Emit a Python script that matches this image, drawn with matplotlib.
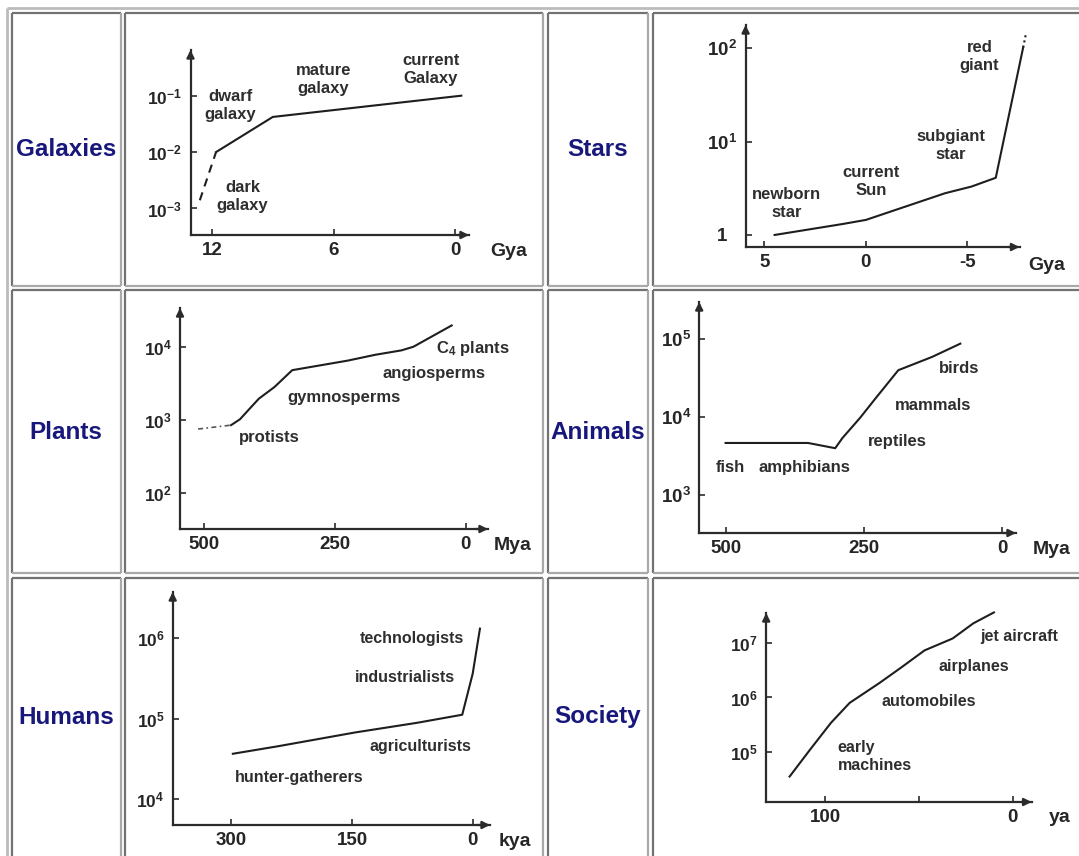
import matplotlib
matplotlib.use("Agg")
import matplotlib.pyplot as plt
import matplotlib.transforms as mtransforms
from matplotlib.ticker import NullLocator, FixedLocator, FixedFormatter

plt.rcParams['font.family'] = ['Liberation Sans', 'DejaVu Sans']
plt.rcParams['mathtext.fontset'] = 'custom'
plt.rcParams['mathtext.rm'] = 'Liberation Sans'
plt.rcParams['mathtext.bf'] = 'Liberation Sans:bold'
plt.rcParams['mathtext.it'] = 'Liberation Sans:italic'

W, H = 1079, 856

# ---------------- data ----------------
row_labels = ['Galaxies', 'Stars', 'Plants', 'Animals', 'Humans', 'Society']

galaxy_gya = [12.6, 11.8, 9.0, -0.3]
galaxy_size = [1.4e-3, 1e-2, 4.2e-2, 1e-1]
galaxy_xticks = [12, 6, 0]
galaxy_yticks = [1e-3, 1e-2, 1e-1]
galaxy_ylabels = [r'$\mathbf{10^{-3}}$', r'$\mathbf{10^{-2}}$', r'$\mathbf{10^{-1}}$']
galaxy_notes = ['dwarf\ngalaxy', 'mature\ngalaxy', 'current\nGalaxy', 'dark\ngalaxy']
galaxy_note_x = [11.1, 6.5, 1.2, 10.5]
galaxy_note_y = [0.066, 0.19, 0.29, 1.6e-3]

star_gya = [4.5, 1.15, 0.0, -3.9, -5.2, -6.4, -7.75, -7.9]
star_size = [1.0, 1.31, 1.45, 2.8, 3.3, 4.1, 102, 148]
star_xticks = [5, 0, -5]
star_yticks = [1, 10, 100]
star_ylabels = ['1', r'$\mathbf{10^{1}}$', r'$\mathbf{10^{2}}$']
star_notes = ['newborn\nstar', 'current\nSun', 'subgiant\nstar', 'red\ngiant']
star_note_x = [3.9, -0.24, -4.2, -5.6]
star_note_y = [2.19, 3.72, 9.2, 81]

plant_mya = [512, 449, 432, 396, 366, 332, 226, 173, 123, 100, 27]
plant_size = [753, 851, 1023, 1950, 2818, 4786, 6457, 7762, 8913, 10000, 19498]
plant_xticks = [500, 250, 0]
plant_yticks = [1e2, 1e3, 1e4]
plant_ylabels = [r'$\mathbf{10^{2}}$', r'$\mathbf{10^{3}}$', r'$\mathbf{10^{4}}$']
plant_notes = [r'C$_{\mathbf{4}}$ plants', 'angiosperms', 'gymnosperms', 'protists']
plant_note_x = [-13, 60, 233, 376]
plant_note_y = [9550, 4365, 2042, 569]

animal_mya = [500, 351, 302, 289, 257, 229, 188, 127, 76]
animal_size = [4645, 4645, 3981, 5370, 9772, 17378, 39811, 58884, 87096]
animal_xticks = [500, 250, 0]
animal_yticks = [1e3, 1e4, 1e5]
animal_ylabels = [r'$\mathbf{10^{3}}$', r'$\mathbf{10^{4}}$', r'$\mathbf{10^{5}}$']
animal_notes = ['birds', 'mammals', 'reptiles', 'fish', 'amphibians']
animal_note_x = [77.7, 125.5, 189.5, 490.5, 358.4]
animal_note_y = [41687, 14125, 4786, 2239, 2239]

human_kya = [298, 241, 146, 69, 13, 0, -9]
human_size = [36728, 45709, 67608, 89125, 112202, 363078, 1318257]
human_xticks = [300, 150, 0]
human_yticks = [1e4, 1e5, 1e6]
human_ylabels = [r'$\mathbf{10^{4}}$', r'$\mathbf{10^{5}}$', r'$\mathbf{10^{6}}$']
human_notes = ['technologists', 'industrialists', 'agriculturists', 'hunter-gatherers']
human_note_x = [75.5, 84.2, 64.7, 215.9]
human_note_y = [1.0e6, 323594, 45290, 18836]

society_ya = [119, 108, 97, 87, 71, 60, 47, 32, 21, 10]
society_size = [3.47e4, 1.10e5, 3.39e5, 7.94e5, 1.86e6, 3.47e6, 7.41e6, 1.23e7, 2.34e7, 3.72e7]
society_xticks = [100, 50, 0]
society_xlabels = ['100', '', '0']
society_yticks = [1e5, 1e6, 1e7]
society_ylabels = [r'$\mathbf{10^{5}}$', r'$\mathbf{10^{6}}$', r'$\mathbf{10^{7}}$']
society_notes = ['jet aircraft', 'airplanes', 'automobiles', 'early\nmachines']
society_note_x = [-3.6, 20.8, 44.9, 93.5]
society_note_y = [1.32e7, 3.8e6, 8.5e5, 8.1e4]

units = ['Gya', 'Gya', 'Mya', 'Mya', 'kya', 'ya']

# ---------------- styling ----------------
AX = '#2b2b2b'
TXT = '#262626'
LBL = '#18187c'

fig = plt.figure(figsize=(W / 100, H / 100), dpi=100)
fig.patch.set_facecolor('white')

bg = fig.add_axes([0, 0, 1, 1])
bg.set_xlim(0, W)
bg.set_ylim(H, 0)
bg.axis('off')


def box(x0, y0, x1, y1, tl, br, lw=1.6):
    bg.plot([x0, x1], [y0, y0], color=tl, lw=lw, solid_capstyle='butt')
    bg.plot([x0, x0], [y0, y1], color=tl, lw=lw, solid_capstyle='butt')
    bg.plot([x0, x1], [y1, y1], color=br, lw=lw, solid_capstyle='butt')
    bg.plot([x1, x1], [y0, y1], color=br, lw=lw, solid_capstyle='butt')


# outer table border
box(7, 8, 1100, 900, '#bcbcbc', '#8a8a8a', lw=2.0)
cols = [(12, 121), (125, 543), (548, 648), (653, 1095)]
rows = [(13, 286), (290, 573), (578, 890)]
for (ry0, ry1) in rows:
    for (cx0, cx1) in cols:
        box(cx0, ry0, cx1, ry1, '#727272', '#a9a9a9', lw=1.6)

# row labels
label_pos = [(66, 149), (598, 149), (66, 432), (598, 432), (66, 717), (598, 717)]
for name, (lx, ly) in zip(row_labels, label_pos):
    bg.text(lx, ly, name, ha='center', va='center', fontsize=17.5,
            fontweight='bold', color=LBL)


def make_axes(pbox, xlim, ylim):
    x0, x1, ytop, ybot = pbox
    ax = fig.add_axes([x0 / W, 1 - ybot / H, (x1 - x0) / W, (ybot - ytop) / H])
    ax.set_yscale('log')
    ax.set_xlim(*xlim)
    ax.set_ylim(*ylim)
    ax.patch.set_alpha(0)
    for s in ['top', 'right']:
        ax.spines[s].set_visible(False)
    for s in ['left', 'bottom']:
        ax.spines[s].set_color(AX)
        ax.spines[s].set_linewidth(1.6)
    ax.annotate('', xy=(1.0, 0), xytext=(0.96, 0), xycoords='axes fraction',
                arrowprops=dict(arrowstyle='-|>', color=AX, lw=1.6,
                                mutation_scale=11, shrinkA=0, shrinkB=0))
    ax.annotate('', xy=(0, 1.0), xytext=(0, 0.96), xycoords='axes fraction',
                arrowprops=dict(arrowstyle='-|>', color=AX, lw=1.6,
                                mutation_scale=11, shrinkA=0, shrinkB=0))
    ax.yaxis.set_minor_locator(NullLocator())
    ax.xaxis.set_minor_locator(NullLocator())
    ax.tick_params(direction='in', length=4, width=1.2, color=AX,
                   labelcolor=TXT)
    ax.tick_params(axis='x', labelsize=13.5, pad=5)
    ax.tick_params(axis='y', labelsize=12.5, pad=6)
    return ax


def set_ticks(ax, xt, xl, yt, yl):
    ax.xaxis.set_major_locator(FixedLocator(xt))
    ax.xaxis.set_major_formatter(FixedFormatter(xl))
    ax.yaxis.set_major_locator(FixedLocator(yt))
    ax.yaxis.set_major_formatter(FixedFormatter(yl))
    for t in ax.get_xticklabels() + ax.get_yticklabels():
        t.set_fontweight('bold')


def notes(ax, texts, xs, ys, ha='center', size=12):
    for t, x, y in zip(texts, xs, ys):
        ax.text(x, y, t, ha=ha, va='center', fontsize=size, fontweight='bold',
                color='#2e2e2e', linespacing=1.25)


LINE = dict(color='#1e1e1e', lw=1.5, clip_on=False)

# Galaxies
ax = make_axes((190.5, 469, 50, 235), (13.06, -0.68), (10 ** -3.47, 10 ** -0.19))
ax.plot(galaxy_gya[:2], galaxy_size[:2], ls=(0, (4, 3)), **LINE)
ax.plot(galaxy_gya[1:], galaxy_size[1:], **LINE)
set_ticks(ax, galaxy_xticks, [str(v) for v in galaxy_xticks], galaxy_yticks, galaxy_ylabels)
notes(ax, galaxy_notes, galaxy_note_x, galaxy_note_y)

# Stars
ax = make_axes((745.6, 1019.5, 25, 247), (5.93, -7.57), (10 ** -0.129, 10 ** 2.25))
ax.plot(star_gya[:-1], star_size[:-1], **LINE)
ax.plot(star_gya[-2:], star_size[-2:], ls=(0, (1, 1.5)), **LINE)
set_ticks(ax, star_xticks, [str(v) for v in star_xticks], star_yticks, star_ylabels)
ax.tick_params(axis='y', labelsize=13.5)
fig.canvas.draw()
lab_one = ax.get_yticklabels()[0]
lab_one.set_transform(lab_one.get_transform() +
                      mtransforms.ScaledTranslation(-10 / 100, 0, fig.dpi_scale_trans))
notes(ax, star_notes, star_note_x, star_note_y)

# Plants
ax = make_axes((180, 488, 308, 529), (546.7, -42.5), (10 ** 1.513, 10 ** 4.528))
ax.plot(plant_mya[:2], plant_size[:2], ls=(0, (3, 2, 1, 2)), color='#555555', lw=1.2, clip_on=False)
ax.plot(plant_mya[1:], plant_size[1:], **LINE)
set_ticks(ax, plant_xticks, [str(v) for v in plant_xticks], plant_yticks, plant_ylabels)
notes(ax, plant_notes, plant_note_x, plant_note_y)

# Animals
ax = make_axes((699.2, 1016, 302, 533), (547.7, -24.6), (10 ** 2.513, 10 ** 5.474))
ax.plot(animal_mya, animal_size, **LINE)
set_ticks(ax, animal_xticks, [str(v) for v in animal_xticks], animal_yticks, animal_ylabels)
ax.tick_params(axis='y', labelsize=13.5)
notes(ax, animal_notes, animal_note_x, animal_note_y)

# Humans
ax = make_axes((172.7, 490, 592, 825), (372.7, -21.5), (10 ** 3.68, 10 ** 6.575))
ax.plot(human_kya, human_size, **LINE)
set_ticks(ax, human_xticks, [str(v) for v in human_xticks], human_yticks, human_ylabels)
notes(ax, human_notes, human_note_x, human_note_y, size=11.5)

# Society
ax = make_axes((766.2, 1031.6, 613, 802), (131.5, -10.1), (10 ** 4.07, 10 ** 7.56))
ax.plot(society_ya, society_size, **LINE)
set_ticks(ax, society_xticks, society_xlabels, society_yticks, society_ylabels)
notes(ax, society_notes[:3], society_note_x[:3], society_note_y[:3], size=11.5)
notes(ax, society_notes[3:], society_note_x[3:], society_note_y[3:], ha='left', size=11.5)

# unit labels
unit_pos = [(509, 251), (1047, 266), (513, 545), (1052, 549), (515, 841), (1060, 817)]
for u, (ux, uy) in zip(units, unit_pos):
    bg.text(ux, uy, u, ha='center', va='center', fontsize=14, fontweight='bold', color=TXT)

fig.savefig('out.png', dpi=100, facecolor='white')
